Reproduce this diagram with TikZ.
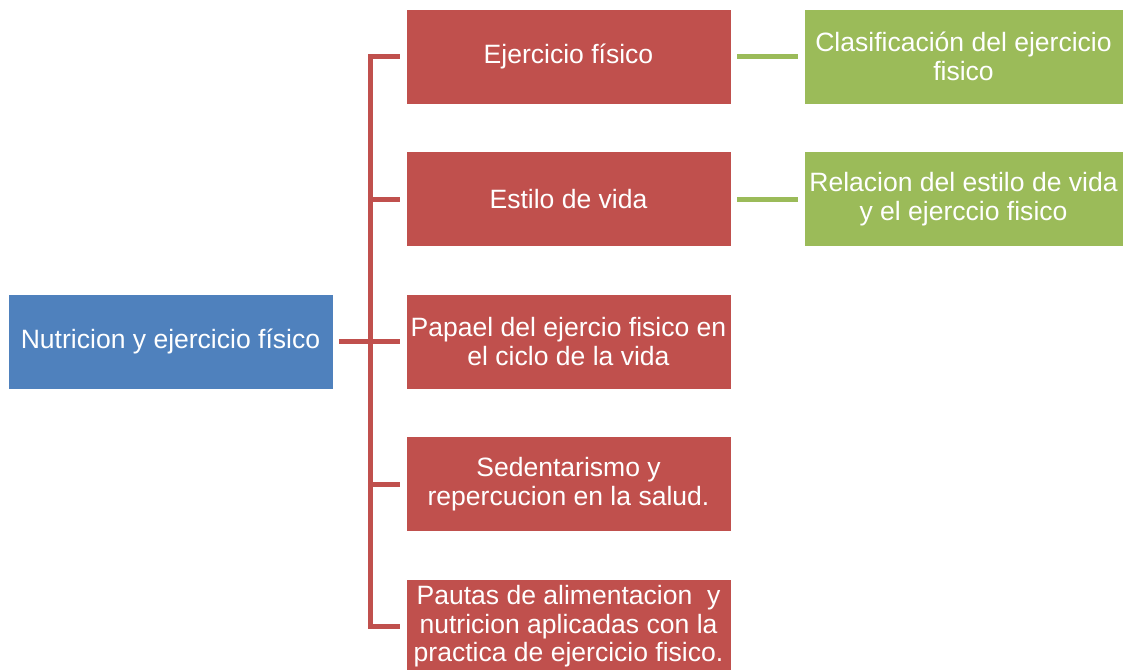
\documentclass[tikz,border=0pt]{standalone}
\usepackage{fontspec}
\setmainfont{Liberation Sans}
\definecolor{topicblue}{HTML}{4F81BD}
\definecolor{subred}{HTML}{C0504D}
\definecolor{detailgreen}{HTML}{9BBB59}
\tikzset{
    box/.style={draw=white, line width=0.6pt, text=white, align=center,
        minimum width=243.75pt, minimum height=71.25pt, inner sep=0pt,
        font=\fontsize{19.9}{21.4}\selectfont},
    topic/.style={box, fill=topicblue},
    subtopic/.style={box, fill=subred},
    detail/.style={box, fill=detailgreen, minimum width=239.25pt},
    redline/.style={draw=subred, line width=3.75pt},
    greenline/.style={draw=detailgreen, line width=3.75pt}
}
\begin{document}
\begin{tikzpicture}[x=0.75pt,y=-0.75pt]
        \useasboundingbox (0,0) rectangle (1124,669);
        \begin{scope}
            \clip (0,0) rectangle (1124,669);

            % Root topic
            \node[topic] (root) at (170.5,341.5) {Nutricion y ejercicio físico};

            % Sub topics
            \node[subtopic] (s1) at (568.5,56.5) {Ejercicio físico};
            \node[subtopic] (s2) at (568.5,199) {Estilo de vida};
            \node[subtopic] (s3) at (568.5,341.5) {Papael del ejercio fisico en\\el ciclo de la vida};
            \node[subtopic] (s4) at (568.5,484) {Sedentarismo y\\repercucion en la salud.};
            \node[subtopic] (s5) at (568.5,626.5) {Pautas de alimentacion \ y\\nutricion aplicadas con la\\practica de ejercicio fisico.};

            % Details
            \node[detail] (d1) at (963.5,56.5) {Clasificación del ejercicio\\fisico};
            \node[detail] (d2) at (963.5,199) {Relacion del estilo de vida\\y el ejerccio fisico};

            % Bracket
            \coordinate (bus) at (370,341.5);
            \draw[redline, shorten <=4.5pt] (root.east) -- (bus);
            \draw[redline, shorten <=4.5pt, shorten >=4.5pt] (s1.west) -- (bus|-s1.west) -- (bus|-s5.west) -- (s5.west);
            \foreach \n in {s2,s3,s4} {
                \draw[redline, shorten >=4.5pt] (bus|-\n.west) -- (\n.west);
            }

            % Detail links
            \draw[greenline, shorten <=4.5pt, shorten >=4.5pt] (s1.east) -- (d1.west);
            \draw[greenline, shorten <=4.5pt, shorten >=4.5pt] (s2.east) -- (d2.west);
        \end{scope}
    \end{tikzpicture}
\end{document}
